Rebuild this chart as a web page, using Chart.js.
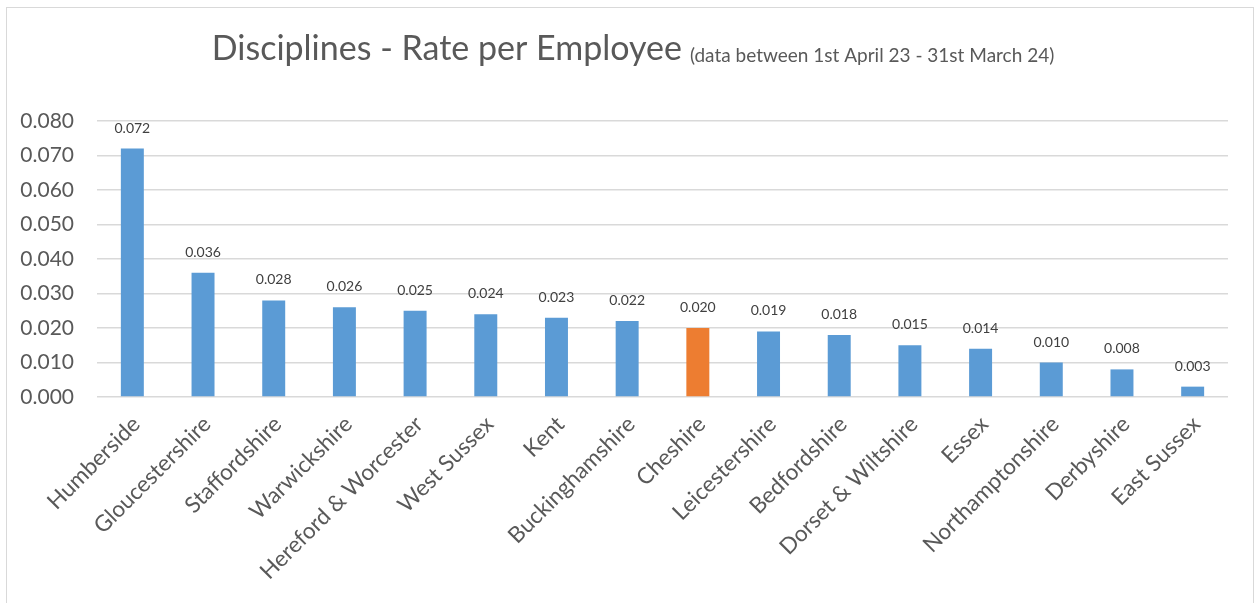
<!DOCTYPE html>
<html>
<head>
<meta charset="utf-8">
<title>Disciplines - Rate per Employee</title>
<script src="https://cdn.jsdelivr.net/npm/chart.js@4.4.1/dist/chart.umd.min.js"></script>
<style>
  html, body { margin: 0; padding: 0; background: #fff; overflow: hidden; }
  #frame {
    position: absolute; left: 6px; top: 7px; width: 1248px; height: 640px;
    border: 1.5px solid #d9d9d9; box-sizing: border-box;
  }
  #chart { position: absolute; left: 0; top: 0; }
</style>
</head>
<body>
<div id="frame"></div>
<canvas id="chart" width="1260" height="603"></canvas>
<script>
// Rate per employee by area, highest first
const areas = [
  'Humberside', 'Gloucestershire', 'Staffordshire', 'Warwickshire',
  'Hereford & Worcester', 'West Sussex', 'Kent', 'Buckinghamshire',
  'Cheshire', 'Leicestershire', 'Bedfordshire', 'Dorset & Wiltshire',
  'Essex', 'Northamptonshire', 'Derbyshire', 'East Sussex'
];
const rates = [
  0.072, 0.036, 0.028, 0.026, 0.025, 0.024, 0.023, 0.022,
  0.020, 0.019, 0.018, 0.015, 0.014, 0.010, 0.008, 0.003
];
const highlighted = 'Cheshire';

const titleMain = 'Disciplines - Rate per Employee';
const titleNote = '(data between 1st April 23 - 31st March 24)';

const BLUE = '#5b9bd5';
const ORANGE = '#ed7d31';
const GREY_TEXT = '#595959';
const FONT = 'Lato, "Open Sans", sans-serif';

// Title and note share one line, so draw them by hand
const titleLine = {
  id: 'titleLine',
  afterDraw(chart) {
    const ctx = chart.ctx;
    ctx.save();
    ctx.fillStyle = GREY_TEXT;
    ctx.textBaseline = 'alphabetic';
    ctx.textAlign = 'left';
    ctx.font = '34px ' + FONT;
    const w1 = ctx.measureText(titleMain).width;
    ctx.font = '19px ' + FONT;
    const w2 = ctx.measureText(titleNote).width;
    const gap = 8;
    const x0 = 633 - (w1 + gap + w2) / 2;
    ctx.font = '34px ' + FONT;
    ctx.fillText(titleMain, x0, 60);
    ctx.font = '19px ' + FONT;
    ctx.fillText(titleNote, x0 + w1 + gap, 62);
    ctx.restore();
  }
};

// Value printed above each bar
const barValues = {
  id: 'barValues',
  afterDatasetsDraw(chart) {
    const ctx = chart.ctx;
    const meta = chart.getDatasetMeta(0);
    ctx.save();
    ctx.fillStyle = '#404040';
    ctx.font = '14px ' + FONT;
    ctx.textAlign = 'center';
    ctx.textBaseline = 'alphabetic';
    meta.data.forEach((bar, i) => {
      ctx.fillText(rates[i].toFixed(3), bar.x, bar.y - 16);
    });
    ctx.restore();
  }
};

new Chart(document.getElementById('chart'), {
  type: 'bar',
  data: {
    labels: areas,
    datasets: [{
      data: rates,
      backgroundColor: areas.map(a => a === highlighted ? ORANGE : BLUE),
      categoryPercentage: 1,
      barPercentage: 0.325
    }]
  },
  options: {
    responsive: false,
    animation: false,
    layout: { padding: { top: 121, left: 15, right: 32, bottom: 0 } },
    plugins: {
      legend: { display: false },
      tooltip: { enabled: false }
    },
    scales: {
      x: {
        grid: { display: false },
        border: { display: false },
        ticks: {
          color: GREY_TEXT,
          font: { family: FONT, size: 22.5 },
          minRotation: 45,
          maxRotation: 45,
          labelOffset: 4,
          padding: 6
        },
        afterFit(scale) { scale.height = 206; }
      },
      y: {
        min: 0,
        max: 0.08,
        grid: { color: '#d9d9d9', lineWidth: 1.5, drawTicks: false },
        border: { display: false },
        ticks: {
          stepSize: 0.01,
          color: GREY_TEXT,
          font: { family: FONT, size: 21 },
          padding: 23,
          callback: v => v.toFixed(3)
        },
        afterFit(scale) { scale.width = 82; }
      }
    }
  },
  plugins: [titleLine, barValues]
});
</script>
</body>
</html>
